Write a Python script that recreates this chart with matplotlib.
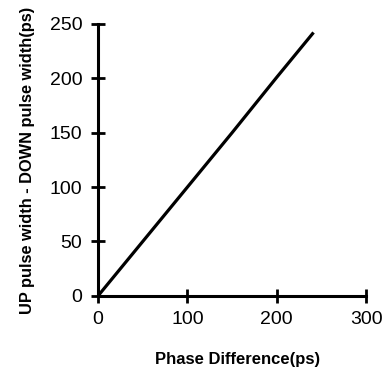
import matplotlib
matplotlib.use("Agg")
import matplotlib.pyplot as plt

plt.rcParams['font.family'] = ['Liberation Sans', 'DejaVu Sans']

phase_diff = [0, 50, 100, 150, 200, 240]
width_diff = [0, 50, 100, 150, 201, 241]

x_ticks = [0, 100, 200, 300]
y_ticks = [0, 50, 100, 150, 200, 250]

fig = plt.figure(figsize=(3.83, 3.68), dpi=100)
ax = fig.add_axes([0.256, 0.196, 0.700, 0.739])
ax.plot(phase_diff, width_diff, color='black', linewidth=2.3)
ax.set_xlim(0, 300)
ax.set_ylim(0, 250)
ax.set_xticks(x_ticks)
ax.set_yticks(y_ticks)
for s in ['top', 'right']:
    ax.spines[s].set_visible(False)
for s in ['left', 'bottom']:
    ax.spines[s].set_linewidth(2.2)
ax.tick_params(direction='inout', length=9.5, width=2.0, labelsize=14, pad=6.5)
ax.set_xlabel('Phase Difference(ps)', fontsize=12, fontweight='bold')
ax.set_ylabel('UP pulse width - DOWN pulse width(ps)', fontsize=11.8, fontweight='bold')
ax.xaxis.set_label_coords(0.52, -0.208)
ax.yaxis.set_label_coords(-0.237, 0.5)
fig.savefig('out.png', dpi=100)
